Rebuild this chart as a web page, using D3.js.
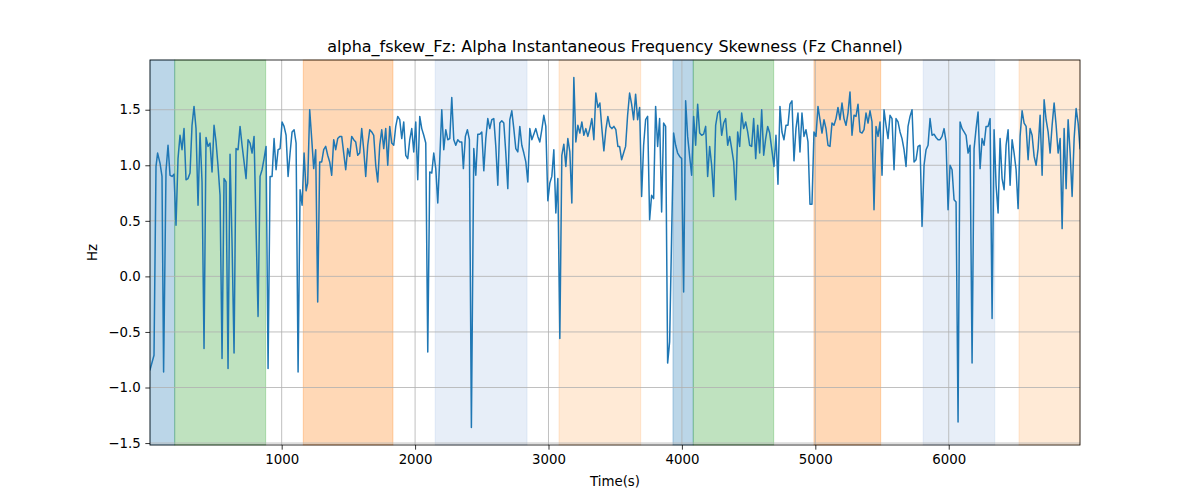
<!DOCTYPE html>
<html>
<head>
<meta charset="utf-8">
<script src="https://cdn.jsdelivr.net/npm/d3@7"></script>
<style>
  html, body { margin: 0; padding: 0; background: #fff; }
  text { font-family: "DejaVu Sans", sans-serif; }
</style>
</head>
<body>
<svg id="chart" width="1200" height="500"></svg>
<script>
const title = "alpha_fskew_Fz: Alpha Instantaneous Frequency Skewness (Fz Channel)";
const xLabel = "Time(s)";
const yLabel = "Hz";

const xTicks = [1000, 2000, 3000, 4000, 5000, 6000];
const yTicks = [-1.5, -1.0, -0.5, 0.0, 0.5, 1.0, 1.5];
const yTickLabels = ["\u22121.5", "\u22121.0", "\u22120.5", "0.0", "0.5", "1.0", "1.5"];

// shaded spans: start, end, colour
const spanStarts = [13, 198, 1162, 2151, 3079, 3933, 4085, 4990, 5809, 6527];
const spanEnds   = [198, 880, 1834, 2839, 3691, 4085, 4688, 5490, 6345, 6984];
const spanColors = ["#1f77b4", "#2ca02c", "#ff7f0e", "#aec7e8", "#ffbb78",
                    "#1f77b4", "#2ca02c", "#ff7f0e", "#aec7e8", "#ffbb78"];

const times = [
  13, 43, 58, 70, 88, 103, 115, 133, 148, 163, 178, 193,
  208,223,238,253,268,283,298,313,328,343,358,373,388,403,418,433,448,463,478,493,
  508,523,538,553,568,583,598,613,628,643,658,673,688,703,718,733,748,763,778,793,
  808,823,838,853,868,883,898,913,928,943,958,973,988,1003,1018,1033,1048,1063,1078,1093,
  1108,1123,1138,1153,1168,1183,
  1195,1210,1225,1240,1255,1270,1285,1300,1315,1330,1345,1360,1375,1390,1405,1420,1435,1450,1465,1480,
  1495,1510,1525,1540,1555,1570,1585,1600,1615,1630,1645,1660,1675,1690,1705,1720,1735,1750,1765,1780,
  1795,1810,1825,1840,1855,1870,1885,1900,1915,1930,1945,1960,1975,1990,2005,2020,2035,2050,2065,2080,
  2095,2110,2125,2140,2155,2170,2185,2200,2215,2230,2245,2260,2275,2290,2305,2320,2335,2350,
  2362,2377,2392,2407,2422,
  2440,2455,2470,2485,2500,2515,2530,2545,2560,2575,2590,2605,2620,2635,2650,2665,2680,2695,2710,2725,
  2740,2755,2770,2785,2800,2815,2830,2845,2860,2875,2890,2905,2920,2935,2950,2965,2980,2995,3010,3025,
  3040,3055,3070,3085,3100,3115,3130,3145,3160,3175,3190,3205,3220,3235,3250,3265,3280,3295,3310,3325,
  3340,3355,3370,3385,3400,3415,3430,3445,3460,3475,3490,3505,3520,
  3533,3548,3563,3578,3593,3608,3623,3638,3653,3668,3683,3698,3713,3728,3743,3758,3773,3788,3803,3818,
  3833,3848,3863,3878,3893,3908,3923,3938,3953,3968,3983,3998,4013,4028,4043,4058,4073,4088,4103,4118,
  4133,4148,4163,4178,4193,4208,4223,4238,4253,4268,4283,4298,4313,4328,4343,4358,4373,4388,4403,4418,
  4433,4448,4463,4478,4493,4508,4523,4538,4553,4568,4583,4598,4613,4628,4643,4658,4673,
  4690,4705,4720,4735,4750,4765,4780,4795,4810,4825,4840,4855,4870,4885,4900,4915,4930,4945,4960,4975,
  4990,5005,5020,5035,5050,5065,5080,5095,5110,5125,5140,5155,5170,5185,5200,5215,5230,5245,5260,5275,
  5290,5305,5320,5335,5350,5365,5380,5395,5410,5425,5440,5455,5470,5485,5500,5515,5530,5545,5560,5575,
  5590,5605,5620,5635,5650,5665,5680,5695,5710,5725,5740,5755,5770,5785,5800,5815,5830,5845,
  5860,5875,5890,5905,5920,5935,5950,5965,5980,5995,6010,6025,6040,6055,6070,6085,6100,6115,6130,6145,
  6160,6175,6190,6205,6220,6235,6250,6265,6280,6295,6310,6325,6340,6355,6370,6385,6400,6415,6430,6445,
  6460,6475,6490,6505,6520,6535,6550,6565,6580,6595,6610,6625,6640,6655,6670,6685,6700,6715,6730,6745,
  6760,6775,6790,6805,6820,6835,6850,6865,6880,6895,6910,6925,6940,6955,6970,6984
];

const values = [
  -0.84,-0.71,0.99,1.11,1.02,0.90,-0.86,0.95,1.18,0.91,0.90,0.92,
  0.46,1.06,1.27,1.14,1.33,0.87,0.88,0.93,1.36,1.53,1.33,0.64,1.29,0.85,-0.65,1.25,1.17,1.20,0.94,1.36,
  1.21,0.99,0.73,-0.74,0.88,0.85,-0.83,1.10,0.30,-0.69,1.15,1.14,1.35,1.18,1.03,0.88,1.23,1.20,1.11,1.26,
  0.43,-0.36,0.90,0.96,1.06,1.17,-0.83,0.90,0.90,1.24,0.96,1.14,1.15,1.39,1.35,1.27,0.90,1.11,1.30,1.32,
  1.20,-0.86,0.78,0.64,1.11,0.77,
  0.84,1.50,1.24,0.97,1.14,-0.23,1.03,1.03,1.14,1.17,1.09,1.03,0.91,1.23,1.14,1.24,1.26,1.26,1.11,0.96,
  1.15,1.08,1.26,1.23,1.21,1.09,1.11,1.33,1.14,0.90,1.18,1.32,1.30,1.27,1.00,0.85,1.18,1.32,1.15,1.33,
  1.00,1.35,1.20,1.18,1.35,1.44,1.41,1.24,1.39,1.09,1.06,1.23,1.33,1.12,1.39,0.87,1.44,1.33,1.27,1.20,
  -0.68,0.94,0.93,1.11,0.97,0.66,1.06,1.50,1.14,1.32,1.23,1.24,1.61,1.23,1.18,1.23,1.21,1.21,
  0.97,1.26,1.32,1.23,-1.36,
  1.15,0.91,1.28,1.28,1.30,0.95,1.24,1.42,1.33,1.41,1.42,1.17,0.82,1.38,1.40,1.38,1.11,0.79,1.41,1.49,
  1.33,1.15,1.12,1.35,1.18,1.11,1.03,0.85,1.33,1.23,1.28,1.33,1.26,1.21,1.32,1.45,1.35,0.68,0.84,0.90,
  1.14,0.57,0.88,-0.56,1.09,1.19,0.99,1.24,1.12,0.66,1.79,1.21,1.36,1.29,1.39,1.27,1.33,1.26,1.33,1.42,
  1.23,1.65,1.52,1.56,1.33,1.13,1.32,1.44,1.35,1.33,1.35,1.32,1.17,
  1.17,1.05,1.11,1.17,1.45,1.65,1.55,1.41,1.64,1.41,1.52,0.72,1.18,1.41,1.44,0.51,0.73,0.70,1.53,1.17,
  1.42,0.58,1.38,1.35,-0.78,-0.59,0.37,1.29,1.18,1.11,1.08,1.06,-0.14,1.58,1.26,1.08,0.91,1.44,1.18,1.55,
  1.29,1.27,1.28,1.35,0.90,1.17,1.00,0.72,1.36,1.47,1.49,1.27,1.38,1.42,1.18,1.26,1.15,1.03,0.69,1.30,
  1.17,1.47,1.33,1.39,1.30,1.18,1.17,1.42,1.06,1.36,1.11,1.50,1.09,1.24,1.35,1.29,1.15,
  0.99,1.27,0.83,1.53,1.30,1.23,1.36,1.36,1.55,1.58,1.04,1.33,1.47,1.12,1.47,1.26,1.32,1.21,0.65,0.65,
  1.30,1.26,1.53,1.41,1.29,1.41,1.33,1.18,1.17,1.38,1.36,1.42,1.52,1.41,1.56,1.42,1.36,1.47,1.66,1.27,
  1.45,1.44,1.55,1.30,1.29,1.32,1.47,1.38,1.49,1.39,0.60,1.35,1.26,1.39,0.91,1.50,1.36,1.24,1.45,1.42,
  0.96,1.42,1.39,1.30,1.24,1.14,0.99,1.35,1.44,1.50,1.03,1.05,1.17,1.18,0.45,1.00,1.14,1.18,
  1.42,1.27,1.28,1.25,1.23,1.23,1.26,1.33,1.21,0.60,1.00,0.96,0.69,0.67,-1.31,1.39,1.33,1.30,1.27,1.11,
  1.18,-0.78,1.15,1.33,1.48,0.97,1.24,1.18,1.35,1.35,1.42,-0.38,1.32,0.82,0.57,1.24,0.88,0.78,1.18,1.32,
  0.82,1.23,1.11,0.96,0.61,1.26,1.49,1.38,1.35,1.05,1.33,1.27,1.08,1.00,1.15,1.45,0.91,1.59,1.41,1.30,
  1.11,1.36,1.56,1.36,1.11,1.24,0.43,1.33,0.79,1.41,1.11,0.72,1.24,1.51,1.38,1.15
];

const svg = d3.select("#chart");
const W = 1200, H = 500;
const m = { left: 150, right: 1080, top: 60, bottom: 445 };

svg.append("rect").attr("width", W).attr("height", H).attr("fill", "#fff");

const data = times.map((t, i) => ({ t, v: values[i] }));

const x = d3.scaleLinear().domain([times[0], times[times.length - 1]]).range([m.left, m.right]);
const yMin = d3.min(values), yMax = d3.max(values);
const pad = (yMax - yMin) * 0.05;
const y = d3.scaleLinear().domain([yMin - pad, yMax + pad]).range([m.bottom, m.top]);

// spans
const spans = spanStarts.map((s, i) => ({ s, e: spanEnds[i], c: spanColors[i] }));
svg.append("g").selectAll("rect").data(spans).join("rect")
  .attr("x", d => x(d.s))
  .attr("y", m.top)
  .attr("width", d => x(d.e) - x(d.s))
  .attr("height", m.bottom - m.top)
  .attr("fill", d => d.c)
  .attr("fill-opacity", 0.3)
  .attr("stroke", d => d.c)
  .attr("stroke-opacity", 0.3)
  .attr("stroke-width", 1);

// grid
const grid = svg.append("g");
grid.selectAll("line.gx").data(xTicks).join("line")
  .attr("x1", d => x(d)).attr("x2", d => x(d))
  .attr("y1", m.top).attr("y2", m.bottom)
  .attr("stroke", "#b0b0b0").attr("stroke-width", 0.8);
grid.selectAll("line.gy").data(yTicks).join("line")
  .attr("x1", m.left).attr("x2", m.right)
  .attr("y1", d => y(d)).attr("y2", d => y(d))
  .attr("stroke", "#b0b0b0").attr("stroke-width", 0.8);

// line
const line = d3.line().x(d => x(d.t)).y(d => y(d.v));
svg.append("defs").append("clipPath").attr("id", "clip")
  .append("rect").attr("x", m.left).attr("y", m.top)
  .attr("width", m.right - m.left).attr("height", m.bottom - m.top);
svg.append("path").datum(data)
  .attr("clip-path", "url(#clip)")
  .attr("fill", "none")
  .attr("stroke", "#1f77b4")
  .attr("stroke-width", 1.5)
  .attr("stroke-linejoin", "round")
  .attr("stroke-linecap", "square")
  .attr("d", line);

// axes
const tickLen = 3.5 * 4 / 3;
const xAxis = d3.axisBottom(x).tickValues(xTicks).tickFormat(d3.format("d"))
  .tickSize(tickLen).tickPadding(tickLen);
const yAxis = d3.axisLeft(y).tickValues(yTicks).tickFormat((d, i) => yTickLabels[i])
  .tickSize(tickLen).tickPadding(tickLen);

const gx = svg.append("g").attr("transform", `translate(0,${m.bottom})`).call(xAxis);
const gy = svg.append("g").attr("transform", `translate(${m.left},0)`).call(yAxis);
[gx, gy].forEach(g => {
  g.select(".domain").remove();
  g.selectAll(".tick line").attr("stroke", "#000").attr("stroke-width", 0.8);
  g.selectAll(".tick text").attr("fill", "#000")
    .style("font-family", "DejaVu Sans, sans-serif").style("font-size", "13.33px");
});

// frame
svg.append("rect")
  .attr("x", m.left).attr("y", m.top)
  .attr("width", m.right - m.left).attr("height", m.bottom - m.top)
  .attr("fill", "none").attr("stroke", "#000").attr("stroke-width", 0.8);

// title and labels
svg.append("text").attr("x", (m.left + m.right) / 2).attr("y", 52)
  .attr("text-anchor", "middle").style("font-size", "16px").attr("fill", "#000")
  .text(title);
svg.append("text").attr("x", (m.left + m.right) / 2).attr("y", 486)
  .attr("text-anchor", "middle").style("font-size", "13.33px").attr("fill", "#000")
  .text(xLabel);
svg.append("text").attr("transform", `translate(97,${(m.top + m.bottom) / 2}) rotate(-90)`)
  .attr("text-anchor", "middle").style("font-size", "13.33px").attr("fill", "#000")
  .text(yLabel);
</script>
</body>
</html>
